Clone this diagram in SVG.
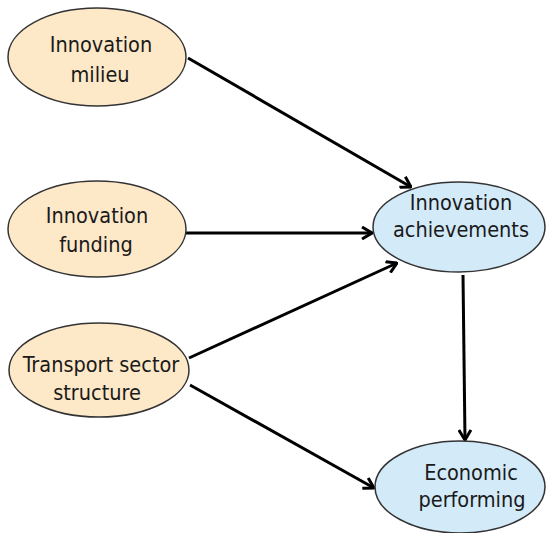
<svg xmlns="http://www.w3.org/2000/svg" width="546" height="533" viewBox="0 0 546 533">
<style>
.src{fill:#fde8c8;stroke:#333;stroke-width:1.5}
.tgt{fill:#d3eaf9;stroke:#333;stroke-width:1.5}
text{font-family:"DejaVu Sans Condensed","DejaVu Sans","Liberation Sans",sans-serif;font-stretch:condensed;font-size:21.5px;fill:#1a1a1a;text-anchor:middle}
.c{stroke:#000;stroke-width:3;fill:none;marker-end:url(#ah)}
</style>
<defs>
<marker id="ah" viewBox="0 0 12 14" refX="11" refY="7" markerWidth="12" markerHeight="14" markerUnits="userSpaceOnUse" orient="auto">
<path d="M1,1 L11,7 L1,13" fill="none" stroke="#000" stroke-width="3"/>
</marker>
</defs>
<rect width="546" height="533" fill="#fff"/>
<g id="connectors">
<line class="c" x1="188" y1="58" x2="411" y2="187"/>
<line class="c" x1="185" y1="233" x2="372" y2="233"/>
<line class="c" x1="189" y1="358" x2="397" y2="263"/>
<line class="c" x1="190" y1="385" x2="374" y2="488"/>
<line class="c" x1="463" y1="275" x2="465" y2="440"/>
</g>
<g id="milieu">
<ellipse class="src" cx="97" cy="57" rx="89" ry="49"/>
<text x="101" y="52">Innovation</text>
<text x="100" y="82">milieu</text>
</g>
<g id="funding">
<ellipse class="src" cx="97" cy="229" rx="89" ry="48"/>
<text x="97" y="223">Innovation</text>
<text x="96" y="252">funding</text>
</g>
<g id="transport">
<ellipse class="src" cx="99" cy="370" rx="90" ry="47"/>
<text x="101" y="372">Transport sector</text>
<text x="97" y="400">structure</text>
</g>
<g id="achievements">
<ellipse class="tgt" cx="459" cy="227" rx="86" ry="45"/>
<text x="461" y="210">Innovation</text>
<text x="461" y="237">achievements</text>
</g>
<g id="economic">
<ellipse class="tgt" cx="460" cy="487" rx="85" ry="46"/>
<text x="471" y="480">Economic</text>
<text x="472" y="507">performing</text>
</g>
</svg>
